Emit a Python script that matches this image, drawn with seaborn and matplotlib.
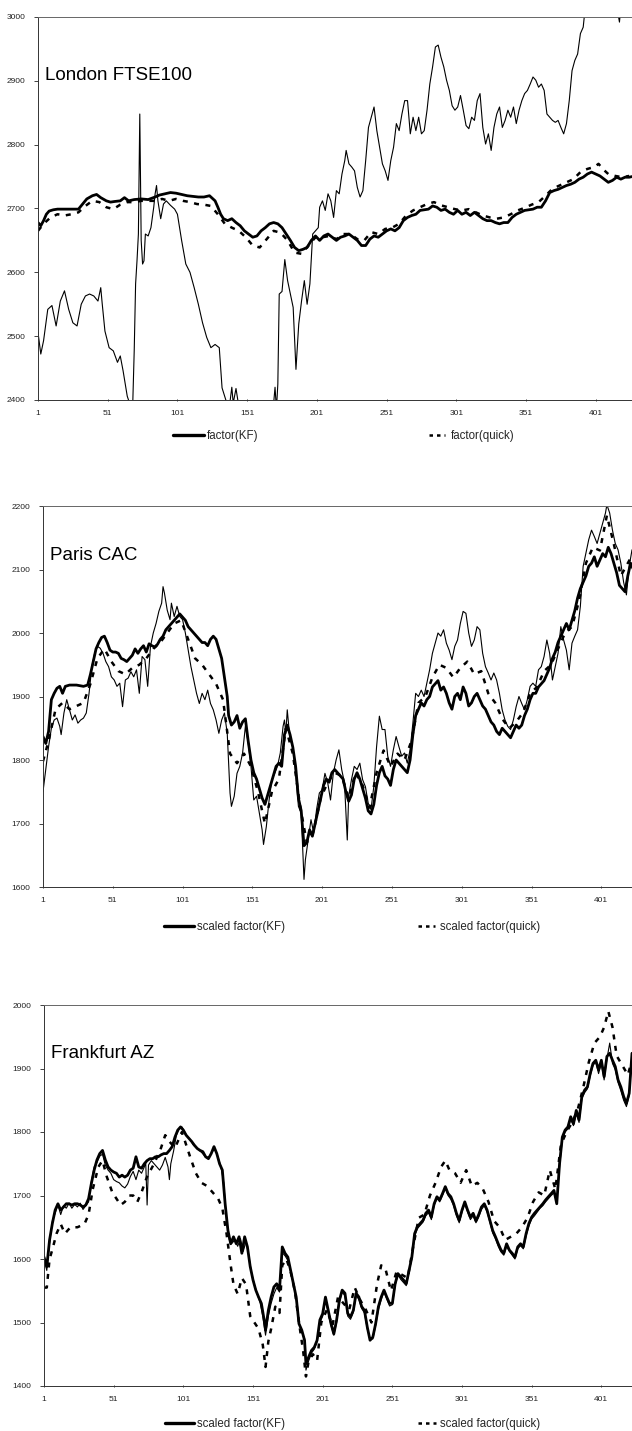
import matplotlib
matplotlib.use("Agg")
import matplotlib.pyplot as plt
import seaborn as sns
import pandas as pd
from matplotlib.lines import Line2D

# ---------------- data ----------------
X_TICKS = [1, 51, 101, 151, 201, 251, 301, 351, 401]

FTSE_Y_TICKS = [2400, 2500, 2600, 2700, 2800, 2900, 3000]
CAC_Y_TICKS = [1600, 1700, 1800, 1900, 2000, 2100, 2200]
FAZ_Y_TICKS = [1400, 1500, 1600, 1700, 1800, 1900, 2000]

TITLES = ["London FTSE100", "Paris CAC", "Frankfurt AZ"]
LEGEND_FTSE = ["factor(KF)", "factor(quick)"]
LEGEND_SCALED = ["scaled factor(KF)", "scaled factor(quick)"]

# London: raw index (thin)
FTSE_INDEX = [(1,2506),(3,2472),(5,2493),(8,2542),(11,2548),(14,2516),(17,2555),(20,2571),(23,2542),(26,2521),
 (29,2516),(32,2550),(35,2563),(38,2566),(41,2563),(44,2555),(46,2576),(47,2552),(49,2508),(52,2482),
 (55,2477),(58,2459),(60,2469),(62,2446),(65,2406),(67,2393),(69,2398),(70,2477),(71,2582),(72,2618),
 (73,2660),(74,2848),(75,2650),(76,2613),(77,2618),(78,2660),(80,2657),(82,2670),(84,2702),(85,2723),
 (86,2736),(87,2712),(89,2684),(91,2707),(93,2712),(96,2705),(99,2699),(101,2691),(104,2650),(107,2613),
 (110,2600),(113,2576),(116,2550),(119,2521),(122,2498),(125,2482),(128,2487),(131,2482),(133,2419),(136,2398),
 (138,2385),(140,2420),(141,2395),(143,2418),(145,2390),(148,2360),(152,2340),(157,2320),(162,2330),(167,2350),
 (170,2395),(171,2420),(172,2385),(173,2425),(174,2566),(176,2570),(178,2620),(180,2587),(182,2566),(184,2545),
 (186,2448),(188,2519),(190,2555),(192,2587),(194,2550),(196,2582),(198,2660),(200,2665),(202,2670),(203,2702),
 (205,2712),(207,2697),(209,2723),(211,2712),(213,2686),(215,2728),(217,2723),(219,2754),(221,2775),(222,2791),
 (224,2770),(226,2765),(228,2759),(230,2733),(232,2718),(234,2728),(236,2775),(238,2827),(240,2843),(242,2859),
 (244,2822),(246,2796),(248,2770),(250,2759),(252,2744),(254,2775),(256,2796),(258,2833),(260,2822),(262,2848),
 (264,2869),(266,2869),(268,2817),(270,2843),(272,2822),(274,2843),(276,2817),(278,2822),(280,2854),(282,2895),
 (284,2922),(286,2953),(288,2956),(290,2937),(292,2922),(294,2901),(296,2885),(298,2861),(300,2854),(302,2859),
 (304,2877),(306,2854),(308,2830),(310,2825),(312,2843),(314,2838),(316,2869),(318,2880),(320,2827),(322,2801),
 (324,2817),(326,2791),(328,2827),(330,2848),(332,2859),(334,2827),(336,2838),(338,2854),(340,2843),(342,2859),
 (344,2833),(346,2854),(348,2869),(350,2880),(352,2885),(354,2895),(356,2906),(358,2901),(360,2890),(362,2895),
 (364,2885),(366,2848),(368,2843),(370,2838),(372,2835),(374,2838),(376,2827),(378,2817),(380,2833),(382,2869),
 (384,2916),(386,2932),(388,2942),(390,2974),(392,2984),(393,3005),(396,3040),(400,3060),(405,3070),(410,3050),
 (415,3030),(418,2992),(419,3015),(421,3005),(424,3030),(427,3040)]

FTSE_KF = [(1,2678),(3,2673),(5,2681),(7,2691),(9,2696),(12,2698),(15,2699),(20,2699),(25,2699),(30,2699),
 (33,2707),(36,2715),(40,2720),(43,2722),(46,2717),(50,2712),(53,2710),(56,2711),(60,2712),(63,2717),
 (66,2712),(70,2714),(75,2715),(80,2714),(85,2718),(88,2721),(92,2723),(96,2725),(100,2724),(104,2722),
 (108,2720),(112,2719),(116,2718),(120,2718),(124,2720),(128,2712),(130,2702),(132,2691),(134,2684),(137,2681),
 (140,2684),(143,2678),(146,2673),(149,2665),(152,2660),(155,2655),(158,2657),(161,2665),(164,2670),(167,2676),
 (170,2678),(173,2676),(176,2670),(179,2660),(182,2650),(185,2639),(188,2634),(191,2636),(194,2639),(197,2650),
 (200,2657),(203,2650),(206,2657),(209,2660),(212,2655),(215,2650),(218,2655),(221,2657),(224,2660),(227,2655),
 (230,2650),(233,2642),(236,2642),(239,2652),(242,2657),(245,2655),(248,2660),(251,2665),(254,2668),(257,2665),
 (260,2670),(263,2681),(266,2686),(269,2689),(272,2691),(275,2697),(278,2698),(281,2699),(284,2704),(287,2702),
 (290,2697),(293,2699),(296,2694),(299,2691),(302,2697),(305,2691),(308,2694),(311,2689),(314,2694),(317,2689),
 (320,2684),(323,2681),(326,2681),(329,2678),(332,2676),(335,2678),(338,2678),(341,2686),(344,2691),(347,2694),
 (350,2697),(353,2698),(356,2699),(359,2702),(362,2702),(365,2712),(368,2725),(371,2728),(374,2730),(377,2733),
 (380,2736),(383,2738),(386,2741),(389,2746),(392,2749),(395,2754),(398,2757),(401,2754),(404,2751),(407,2746),
 (410,2741),(413,2744),(416,2749),(419,2746),(422,2749),(425,2749),(427,2750)]

FTSE_QUICK = [(1,2665),(5,2676),(10,2686),(15,2691),(20,2689),(25,2691),(30,2694),(35,2704),(40,2712),(45,2710),
 (50,2702),(55,2699),(60,2706),(65,2710),(70,2710),(75,2712),(80,2712),(85,2712),(90,2715),(95,2712),
 (100,2715),(105,2712),(110,2710),(115,2707),(120,2706),(125,2704),(130,2691),(135,2676),(140,2670),(145,2665),
 (150,2655),(155,2642),(160,2639),(165,2652),(170,2665),(175,2662),(180,2650),(185,2631),(190,2629),(195,2642),
 (200,2655),(205,2655),(210,2657),(215,2652),(220,2660),(225,2660),(230,2652),(235,2650),(240,2663),(245,2660),
 (250,2668),(255,2670),(260,2676),(265,2689),(270,2697),(275,2702),(280,2707),(285,2710),(290,2705),(295,2702),
 (300,2699),(305,2697),(310,2699),(315,2694),(320,2689),(325,2686),(330,2684),(335,2686),(340,2691),(345,2697),
 (350,2701),(355,2706),(360,2710),(365,2720),(370,2731),(375,2736),(380,2741),(385,2746),(390,2757),(395,2762),
 (400,2765),(403,2770),(406,2762),(410,2754),(415,2751),(420,2749),(425,2751)]

# Paris
CAC_INDEX = [(1,1750),(3,1785),(5,1821),(7,1850),(9,1863),(11,1866),(13,1853),(14,1840),(16,1874),(18,1895),
 (20,1879),(22,1863),(24,1871),(26,1858),(28,1863),(30,1866),(32,1874),(34,1905),(36,1947),(38,1968),
 (40,1979),(42,1976),(44,1968),(46,1955),(48,1947),(50,1931),(52,1926),(54,1916),(56,1921),(58,1884),
 (60,1926),(62,1929),(64,1939),(66,1931),(68,1942),(70,1905),(72,1963),(74,1958),(76,1916),(78,1979),
 (80,2000),(82,2015),(84,2034),(86,2047),(87,2073),(88,2063),(90,2036),(92,2021),(93,2047),(95,2026),
 (97,2042),(99,2026),(101,2021),(103,2000),(105,1973),(107,1947),(109,1926),(111,1905),(113,1889),(115,1905),
 (117,1895),(119,1910),(121,1889),(123,1879),(125,1863),(127,1842),(129,1863),(131,1874),(133,1842),(135,1748),
 (136,1727),(138,1743),(140,1779),(142,1790),(144,1811),(146,1853),(148,1827),(150,1790),(152,1737),(154,1743),
 (156,1716),(158,1690),(159,1667),(161,1695),(163,1737),(165,1769),(167,1779),(169,1790),(171,1811),(173,1853),
 (174,1863),(175,1842),(176,1879),(178,1832),(180,1821),(182,1779),(184,1727),(186,1716),(187,1664),(188,1612),
 (189,1643),(191,1674),(193,1706),(195,1685),(197,1722),(199,1748),(201,1753),(203,1779),(205,1764),(207,1737),
 (209,1779),(211,1800),(213,1816),(215,1785),(217,1764),(219,1674),(220,1743),(222,1769),(224,1790),(226,1785),
 (228,1795),(230,1769),(232,1758),(234,1732),(236,1722),(238,1758),(240,1821),(242,1869),(244,1848),(246,1848),
 (248,1806),(250,1790),(252,1816),(254,1837),(256,1821),(258,1806),(260,1811),(262,1795),(264,1816),(266,1858),
 (268,1905),(270,1900),(272,1910),(274,1900),(276,1921),(278,1942),(280,1968),(282,1984),(284,2000),(286,1995),
 (288,2005),(290,1984),(292,1973),(294,1958),(296,1979),(298,1989),(300,2015),(302,2034),(304,2031),(306,2000),
 (308,1979),(310,1989),(312,2010),(314,2005),(316,1968),(318,1947),(320,1937),(322,1926),(324,1937),(326,1926),
 (328,1905),(330,1879),(332,1863),(334,1853),(336,1848),(338,1863),(340,1884),(342,1900),(344,1889),(346,1879),
 (348,1895),(350,1916),(352,1921),(354,1916),(356,1942),(358,1947),(360,1963),(362,1989),(364,1968),(366,1926),
 (368,1947),(370,1968),(372,2010),(374,1989),(376,1973),(378,1942),(380,1984),(382,1995),(384,2005),(386,2042),
 (388,2105),(390,2126),(392,2147),(394,2162),(396,2152),(398,2141),(400,2157),(402,2173),(404,2189),(405,2202),
 (407,2189),(409,2162),(411,2141),(413,2131),(415,2110),(417,2080),(419,2060),(421,2105),(423,2131)]

CAC_KF = [(1,1837),(3,1826),(5,1845),(7,1895),(9,1905),(11,1913),(13,1916),(15,1905),(17,1916),(20,1918),
 (25,1918),(30,1916),(33,1918),(35,1935),(37,1955),(39,1975),(41,1985),(43,1993),(45,1995),(47,1985),
 (49,1973),(51,1970),(53,1970),(55,1968),(57,1960),(59,1958),(61,1955),(63,1960),(65,1965),(67,1975),
 (69,1968),(71,1975),(73,1980),(75,1970),(77,1983),(79,1980),(81,1978),(83,1982),(85,1990),(87,1995),
 (89,2005),(91,2010),(93,2015),(95,2020),(97,2025),(99,2030),(101,2025),(103,2020),(105,2010),(107,2005),
 (109,2000),(111,1995),(113,1990),(115,1985),(117,1985),(119,1980),(121,1990),(123,1995),(125,1990),(127,1975),
 (129,1960),(131,1930),(133,1900),(134,1870),(136,1855),(138,1860),(140,1870),(142,1850),(144,1860),(146,1865),
 (148,1830),(150,1800),(152,1780),(154,1770),(156,1755),(158,1740),(160,1730),(162,1745),(164,1760),(166,1775),
 (168,1790),(170,1795),(172,1790),(174,1840),(176,1855),(178,1840),(180,1820),(182,1790),(184,1740),(186,1720),
 (188,1665),(190,1670),(192,1690),(194,1680),(196,1700),(198,1720),(200,1740),(202,1760),(204,1770),(206,1765),
 (208,1780),(210,1785),(212,1780),(214,1775),(216,1770),(218,1750),(220,1735),(222,1745),(224,1770),(226,1780),
 (228,1770),(230,1755),(232,1740),(234,1720),(236,1715),(238,1730),(240,1760),(242,1780),(244,1790),(246,1775),
 (248,1770),(250,1760),(252,1785),(254,1800),(256,1795),(258,1790),(260,1785),(262,1780),(264,1800),(266,1840),
 (268,1870),(270,1880),(272,1890),(274,1885),(276,1895),(278,1900),(280,1915),(282,1920),(284,1925),(286,1910),
 (288,1915),(290,1905),(292,1890),(294,1880),(296,1900),(298,1905),(300,1895),(302,1915),(304,1905),(306,1885),
 (308,1890),(310,1900),(312,1905),(314,1895),(316,1885),(318,1880),(320,1870),(322,1860),(324,1855),(326,1845),
 (328,1840),(330,1850),(332,1845),(334,1840),(336,1835),(338,1845),(340,1855),(342,1850),(344,1855),(346,1870),
 (348,1880),(350,1895),(352,1905),(354,1905),(356,1915),(358,1920),(360,1925),(362,1935),(364,1945),(366,1960),
 (368,1970),(370,1985),(372,1995),(374,2005),(376,2015),(378,2005),(380,2020),(382,2035),(384,2055),(386,2070),
 (388,2080),(390,2090),(392,2105),(394,2110),(396,2120),(398,2105),(400,2115),(402,2125),(404,2120),(406,2135),
 (408,2125),(410,2110),(412,2095),(414,2075),(416,2070),(418,2065),(420,2090),(422,2110),(424,2100)]

CAC_QUICK = [(1,1798),(5,1830),(10,1880),(15,1890),(20,1880),(25,1885),(30,1890),(35,1920),(40,1960),(45,1975),
 (50,1955),(55,1940),(60,1935),(65,1945),(70,1950),(75,1960),(80,1975),(85,1985),(90,2000),(95,2015),
 (100,2020),(105,1990),(110,1960),(115,1950),(120,1935),(125,1920),(130,1895),(135,1810),(140,1795),(145,1810),
 (150,1790),(155,1750),(160,1700),(165,1750),(170,1770),(175,1850),(180,1810),(185,1730),(190,1670),(195,1690),
 (200,1740),(205,1765),(210,1780),(215,1775),(220,1740),(225,1780),(230,1760),(235,1725),(240,1780),(245,1815),
 (250,1790),(255,1810),(260,1800),(265,1830),(270,1890),(275,1900),(280,1930),(285,1950),(290,1945),(295,1930),
 (300,1945),(305,1955),(310,1935),(315,1940),(320,1905),(325,1890),(330,1865),(335,1850),(340,1860),(345,1875),
 (350,1905),(355,1915),(360,1940),(365,1950),(370,1975),(375,2000),(380,2010),(385,2050),(390,2110),(395,2135),
 (400,2130),(405,2185),(410,2140),(415,2090),(420,2110),(425,2130)]

# Frankfurt
FAZ_INDEX = [(1,1600),(3,1582),(5,1625),(7,1660),(9,1672),(11,1685),(13,1670),(15,1684),(17,1680),(19,1688),
 (21,1680),(23,1686),(25,1682),(27,1688),(29,1678),(31,1684),(33,1690),(35,1722),(37,1745),(39,1752),
 (41,1762),(43,1765),(45,1748),(47,1740),(49,1735),(51,1725),(53,1722),(55,1720),(57,1715),(59,1712),
 (61,1718),(63,1730),(65,1738),(67,1725),(69,1740),(71,1735),(73,1745),(74,1752),(75,1685),(76,1748),
 (78,1755),(80,1750),(82,1745),(84,1740),(86,1748),(88,1760),(90,1745),(91,1725),(92,1750),(94,1770),
 (96,1795),(98,1805),(100,1808),(102,1800),(104,1792),(106,1788),(108,1780),(110,1776),(112,1772),(114,1768),
 (116,1763),(118,1760),(120,1762),(122,1770),(124,1772),(126,1760),(128,1745),(130,1720),(132,1660),(134,1630),
 (136,1625),(138,1630),(140,1620),(142,1632),(144,1612),(146,1628),(148,1605),(150,1578),(152,1560),(154,1545),
 (156,1532),(158,1510),(160,1480),(162,1510),(164,1530),(166,1545),(168,1555),(170,1548),(172,1610),(174,1605),
 (176,1598),(178,1580),(180,1560),(182,1538),(184,1500),(186,1485),(188,1475),(189,1425),(191,1440),(193,1452),
 (195,1458),(197,1470),(199,1500),(201,1510),(203,1536),(205,1515),(207,1495),(209,1480),(211,1500),(213,1532),
 (215,1548),(217,1542),(219,1510),(221,1505),(223,1516),(225,1543),(227,1536),(229,1522),(231,1515),(233,1490),
 (235,1475),(237,1474),(239,1495),(241,1520),(243,1536),(245,1548),(247,1537),(249,1526),(251,1528),(253,1558),
 (255,1575),(257,1568),(259,1563),(261,1558),(263,1580),(265,1600),(267,1636),(269,1648),(271,1653),(273,1658),
 (275,1668),(277,1673),(279,1662),(281,1684),(283,1695),(285,1690),(287,1700),(289,1711),(291,1700),(293,1694),
 (295,1684),(297,1668),(299,1657),(301,1674),(303,1687),(305,1674),(307,1662),(309,1668),(311,1657),(313,1666),
 (315,1678),(317,1684),(319,1674),(321,1658),(323,1641),(325,1632),(327,1620),(329,1611),(331,1606),(333,1620),
 (335,1612),(337,1606),(339,1600),(341,1616),(343,1621),(345,1616),(347,1636),(349,1652),(351,1663),(353,1668),
 (355,1674),(357,1680),(359,1684),(361,1690),(363,1695),(365,1700),(367,1704),(369,1690),(371,1745),(373,1788),
 (375,1800),(377,1805),(379,1820),(381,1810),(383,1830),(385,1815),(387,1852),(389,1862),(391,1868),(393,1888),
 (395,1905),(397,1910),(399,1892),(401,1908),(403,1882),(405,1915),(407,1940),(409,1908),(411,1898),(413,1878),
 (415,1865),(417,1850),(419,1840),(421,1858),(423,1920),(425,1925)]

FAZ_KF = [(1,1603),(3,1588),(5,1630),(7,1656),(9,1677),(11,1687),(13,1677),(15,1682),(17,1687),(19,1687),
 (21,1685),(23,1687),(25,1687),(27,1685),(29,1682),(31,1685),(33,1695),(35,1719),(37,1740),(39,1756),
 (41,1766),(43,1771),(45,1756),(47,1745),(49,1740),(51,1737),(53,1735),(55,1729),(57,1732),(59,1729),
 (61,1732),(63,1740),(65,1743),(67,1761),(69,1745),(71,1743),(73,1750),(75,1755),(77,1758),(79,1758),
 (81,1761),(83,1761),(85,1764),(87,1766),(89,1766),(91,1771),(93,1777),(95,1792),(97,1803),(99,1808),
 (101,1803),(103,1795),(105,1790),(107,1785),(109,1779),(111,1774),(113,1771),(115,1769),(117,1761),(119,1758),
 (121,1766),(123,1777),(125,1766),(127,1750),(129,1740),(131,1687),(133,1645),(135,1624),(137,1635),(139,1624),
 (141,1635),(143,1609),(145,1635),(147,1619),(149,1588),(151,1567),(153,1551),(155,1540),(157,1530),(159,1504),
 (160,1488),(162,1519),(164,1540),(166,1556),(168,1561),(170,1551),(172,1619),(174,1609),(176,1603),(178,1582),
 (180,1561),(182,1540),(184,1498),(186,1488),(188,1472),(189,1435),(191,1446),(193,1456),(195,1461),(197,1472),
 (199,1504),(201,1514),(203,1540),(205,1519),(207,1498),(209,1482),(211,1504),(213,1535),(215,1551),(217,1546),
 (219,1514),(221,1509),(223,1519),(225,1546),(227,1540),(229,1525),(231,1519),(233,1493),(235,1472),(237,1477),
 (239,1498),(241,1525),(243,1540),(245,1551),(247,1540),(249,1530),(251,1530),(253,1561),(255,1577),(257,1572),
 (259,1567),(261,1561),(263,1582),(265,1603),(267,1640),(269,1651),(271,1656),(273,1661),(275,1672),(277,1677),
 (279,1666),(281,1687),(283,1698),(285,1693),(287,1703),(289,1714),(291,1703),(293,1698),(295,1687),(297,1672),
 (299,1661),(301,1677),(303,1690),(305,1677),(307,1666),(309,1672),(311,1660),(313,1670),(315,1682),(317,1687),
 (319,1677),(321,1661),(323,1645),(325,1635),(327,1624),(329,1614),(331,1609),(333,1624),(335,1614),(337,1609),
 (339,1603),(341,1619),(343,1624),(345,1619),(347,1640),(349,1656),(351,1666),(353,1672),(355,1677),(357,1682),
 (359,1687),(361,1693),(363,1698),(365,1703),(367,1708),(369,1687),(371,1750),(373,1792),(375,1803),(377,1808),
 (379,1824),(381,1813),(383,1834),(385,1819),(387,1856),(389,1866),(391,1871),(393,1892),(395,1908),(397,1913),
 (399,1898),(401,1913),(403,1887),(405,1919),(407,1924),(409,1913),(411,1903),(413,1882),(415,1871),(417,1856),
 (419,1845),(421,1861),(423,1924),(425,1920)]

FAZ_QUICK = [(1,1555),(3,1555),(5,1600),(7,1615),(10,1640),(13,1655),(16,1640),(20,1650),(25,1650),(30,1655),
 (33,1670),(36,1710),(40,1745),(43,1755),(46,1730),(50,1705),(53,1695),(56,1685),(59,1690),(62,1700),
 (65,1700),(68,1690),(71,1705),(75,1730),(80,1750),(85,1775),(88,1795),(91,1785),(95,1775),(100,1800),
 (103,1780),(106,1760),(110,1735),(114,1720),(118,1715),(122,1705),(126,1695),(129,1680),(132,1640),(135,1590),
 (137,1560),(140,1545),(143,1570),(146,1560),(149,1510),(152,1500),(155,1490),(158,1465),(160,1430),(162,1470),
 (164,1490),(167,1525),(170,1515),(172,1590),(175,1600),(178,1580),(181,1550),(184,1500),(187,1455),(189,1415),
 (191,1440),(194,1450),(197,1440),(200,1500),(204,1520),(208,1495),(212,1540),(216,1530),(220,1520),(224,1555),
 (228,1535),(232,1520),(236,1500),(240,1560),(243,1590),(246,1585),(250,1550),(254,1580),(258,1575),(262,1570),
 (266,1620),(270,1665),(274,1670),(278,1700),(282,1720),(286,1745),(289,1755),(292,1740),(296,1735),(300,1720),
 (304,1740),(308,1715),(312,1720),(316,1710),(320,1690),(324,1660),(328,1650),(332,1630),(336,1635),(340,1640),
 (344,1650),(348,1665),(352,1690),(356,1705),(360,1700),(364,1740),(368,1710),(372,1780),(376,1800),(380,1815),
 (384,1835),(388,1870),(392,1910),(396,1940),(400,1950),(403,1965),(406,1990),(409,1965),(412,1920),(416,1905),
 (420,1890),(424,1920)]

# ---------------- drawing ----------------
sns.set_theme(style="white")
plt.rcParams["font.family"] = ["Liberation Sans", "DejaVu Sans"]

W, H = 632, 1431
fig = plt.figure(figsize=(W / 100, H / 100), dpi=100)

DASH = (0, (2.0, 2.6))
LEG_FS = 8.3
EM = LEG_FS * 100 / 72.0  # pixels per em


def fx(px):
    return px / W


def fy(py):
    return 1 - py / H


def frame(series):
    return pd.DataFrame({"t": [p[0] for p in series], "v": [p[1] for p in series]})


def legend_entry(handle, label, x_px, y_px, hlen_px, pad_px):
    fig.legend([handle], [label], loc="center left", bbox_to_anchor=(fx(x_px), fy(y_px)),
               bbox_transform=fig.transFigure, frameon=False, fontsize=LEG_FS,
               handlelength=hlen_px / EM, handletextpad=pad_px / EM,
               borderpad=0, borderaxespad=0)


def panel(rect, index, kf, quick, yticks, xmax, title, labels, title_y, leg):
    ax = fig.add_axes(rect)
    sns.lineplot(data=frame(index), x="t", y="v", ax=ax, color="black", linewidth=0.8,
                 estimator=None, sort=False)
    sns.lineplot(data=frame(quick), x="t", y="v", ax=ax, color="black", linewidth=1.8,
                 estimator=None, sort=False, linestyle=DASH)
    sns.lineplot(data=frame(kf), x="t", y="v", ax=ax, color="black", linewidth=2.0,
                 estimator=None, sort=False)
    ax.set_xlim(1, xmax)
    ax.set_ylim(yticks[0], yticks[-1])
    ax.set_xticks(X_TICKS)
    ax.set_xticklabels([str(t) for t in X_TICKS])
    ax.set_yticks(yticks)
    ax.set_yticklabels([str(t) for t in yticks])
    ax.set_xlabel("")
    ax.set_ylabel("")
    ax.tick_params(axis="y", labelsize=6, length=3, width=0.6, direction="out",
                   left=True, pad=6, colors="#222222")
    ax.tick_params(axis="x", labelsize=6, length=2, width=0.6, direction="inout",
                   bottom=True, pad=6, colors="#222222")
    for s in ["left", "bottom", "top"]:
        ax.spines[s].set_visible(True)
        ax.spines[s].set_color("#333333")
        ax.spines[s].set_linewidth(0.7)
    ax.spines["top"].set_color("#666666")
    ax.spines["right"].set_visible(False)
    ax.grid(False)
    ax.text(0.012, title_y, title, transform=ax.transAxes, fontsize=13.5,
            ha="left", va="center", color="black")

    (y_px, x1, len1, pad1, x2, len2, pad2) = leg
    solid = Line2D([], [], color="black", linewidth=2.4)
    dashed = Line2D([], [], color="black", linewidth=1.8, linestyle=(0, (1.4, 1.6)))
    legend_entry(solid, labels[0], x1, y_px, len1, pad1)
    legend_entry(dashed, labels[1], x2, y_px, len2, pad2)
    return ax


panel([fx(38), fy(400), 1 - fx(38), (400 - 17) / H], FTSE_INDEX, FTSE_KF, FTSE_QUICK,
      FTSE_Y_TICKS, 427, TITLES[0], LEGEND_FTSE, 0.848,
      (436, 173, 31, 3, 429, 16, 6))
panel([fx(43), fy(887), 1 - fx(43), (887 - 506) / H], CAC_INDEX, CAC_KF, CAC_QUICK,
      CAC_Y_TICKS, 423, TITLES[1], LEGEND_SCALED, 0.871,
      (927, 164, 30, 3, 418, 17, 5))
panel([fx(44), fy(1386), 1 - fx(44), (1386 - 1005) / H], FAZ_INDEX, FAZ_KF, FAZ_QUICK,
      FAZ_Y_TICKS, 423, TITLES[2], LEGEND_SCALED, 0.874,
      (1424, 165, 29, 3, 418, 18, 4))

fig.savefig("out.png", dpi=100)
